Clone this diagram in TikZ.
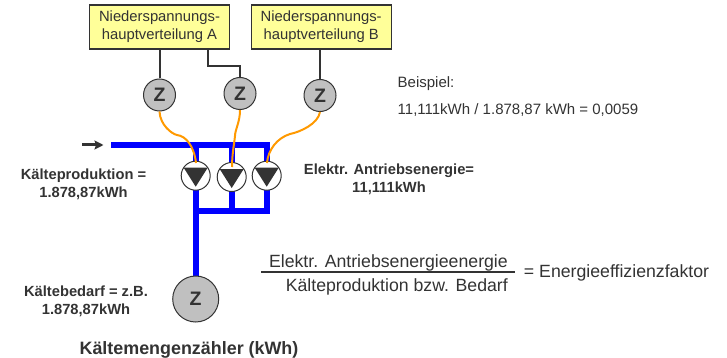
\documentclass[tikz,border=0pt]{standalone}
\usepackage{fontspec}
\setmainfont{Liberation Sans}
\usetikzlibrary{positioning, arrows.meta, backgrounds}
\definecolor{coloredge}{HTML}{333333}
\definecolor{colorbox}{HTML}{FFFF99}
\definecolor{colormeter}{HTML}{C0C0C0}
\definecolor{colorpipe}{HTML}{0000FF}
\definecolor{colorsignal}{HTML}{FF9900}

\begin{document}
\begin{tikzpicture}[
    x=1pt, y=-1pt,
    % Yellow distribution boxes
    box/.style={
        rectangle,
        draw=coloredge,
        fill=colorbox,
        align=center,
        minimum width=140pt,
        minimum height=44pt,
        inner sep=0pt,
        line width=1.2pt,
        text=coloredge,
        font=\fontsize{14.8}{18}\selectfont
    },
    % Small and large meters
    meter/.style={
        circle,
        draw=coloredge,
        fill=colormeter,
        minimum size=32pt,
        inner sep=0pt,
        line width=1pt,
        text=coloredge,
        font=\fontsize{19.5}{19.5}\selectfont\bfseries
    },
    bigmeter/.style={
        meter,
        minimum size=46pt
    },
    % Pump with its filled triangle
    pump/.style={
        circle,
        draw=coloredge,
        fill=white,
        minimum size=29pt,
        inner sep=0pt,
        line width=1pt,
        path picture={
            \fill[coloredge]
                ([xshift=-12pt,yshift=8pt]path picture bounding box.center) --
                ([xshift=12pt,yshift=8pt]path picture bounding box.center) --
                ([yshift=-11pt]path picture bounding box.center) -- cycle;
        }
    },
    label/.style={
        align=center,
        inner sep=0pt,
        text=coloredge,
        font=\fontsize{14.7}{18}\selectfont\bfseries
    },
    note/.style={
        anchor=west,
        inner sep=0pt,
        text=coloredge,
        font=\fontsize{15}{17}\selectfont
    },
    formula/.style={
        inner sep=0pt,
        text=coloredge,
        font=\fontsize{17.7}{20}\selectfont
    },
    wire/.style={coloredge, line width=2pt},
    pipe/.style={colorpipe, line width=6pt},
    signal/.style={colorsignal, line width=2pt},
    arrow/.style={
        -{Stealth[length=9pt, width=9pt, inset=1.5pt]},
        coloredge,
        line width=3pt
    }
]
\useasboundingbox (0,0) rectangle (727,358);

% ==============================
% Row 1: Distribution boxes and meters
% ==============================
\node[box] (boxa) at (159.5,27) {Niederspannungs-\\hauptverteilung A};
\node[box, right=20.5pt of boxa] (boxb) {Niederspannungs-\\hauptverteilung B};

\node[meter] (metera) at (159.5,95) {Z};
\node[meter] (meterb) at (240,93.5) {Z};
\node[meter] (meterc) at (320,95.5) {Z};

% ==============================
% Row 2: Pumps
% ==============================
\node[pump] (pumpa) at (195.7,175.7) {};
\node[pump] (pumpb) at (231.7,177) {};
\node[pump] (pumpc) at (266.7,175.7) {};

\coordinate (headstart) at (111,145);
\coordinate (collector) at (195.7,210.5);
\coordinate (arrowstart) at (82,145);
\coordinate (arrowend) at (103.5,145);
\coordinate (wirebend) at (208,49);
\coordinate (signala) at (196,163);
\coordinate (signalb) at (232,167);
\coordinate (signalc) at (267,163);

% ==============================
% Row 3: Cold meter
% ==============================
\node[bigmeter] (bigz) at (195.7,299) {Z};

% ==============================
% Labels
% ==============================
\node[label] (production) at (83.5,184) {Kälteproduktion =\\1.878,87kWh};
\node[label] (drive) at (389,179) {Elektr. Antriebsenergie=\\11,111kWh};
\node[label] (demand) at (86,301) {Kältebedarf = z.B.\\1.878,87kWh};
\node[label] (metername) at (189,350) {\fontsize{17.9}{20}\selectfont Kältemengenzähler (kWh)};

\node[note] (example) at (397.5,83.5) {Beispiel:};
\node[note] (result) at (397.5,110) {11,111kWh / 1.878,87 kWh = 0,0059};

% ==============================
% Formula
% ==============================
\node[formula, anchor=east] (numerator) at (508,262.5) {Elektr. Antriebsenergieenergie};
\node[formula, anchor=east] (denominator) at (508,287) {Kälteproduktion bzw. Bedarf};
\node[formula, anchor=west] (factor) at (539,273) {Energieeffizienzfaktor};
\node[formula, left=4.5pt of factor] (equals) {=};
\coordinate (fractionstart) at (261,271.5);
\coordinate (fractionend) at (515,271.5);
\draw[coloredge, line width=2pt] (fractionstart) -- (fractionend);

% ==============================
% Connections
% ==============================
\begin{scope}[on background layer]
\draw[pipe] (headstart) -| (pumpc.center);
\draw[pipe] (pumpa.center |- headstart) -- (pumpa.center);
\draw[pipe] (pumpb.center |- headstart) -- (pumpb.center);
\draw[pipe] (pumpa.center) -- (bigz.center);
\draw[pipe] (collector) -| (pumpc.center);
\draw[pipe] (pumpb.center) -- (pumpb.center |- collector);
\end{scope}

\draw[arrow] (arrowstart) -- (arrowend);

\draw[wire] (boxa.south -| metera) -- (metera);
\draw[wire] (wirebend) |- (240,66.5) -- (meterb);
\draw[wire] (boxb.south -| meterc) -- (meterc);

% Signal lines from the meters to the pumps
\draw[signal] (metera.south) .. controls (160,125) and (172,134) .. (177,135)
    .. controls (186,136) and (194,146) .. (signala);
\draw[signal] (meterb.south) .. controls (240,122) and (235,130) .. (235,136)
    .. controls (234,145) and (232,155) .. (signalb);
\draw[signal] (meterc.south) .. controls (318,124) and (300,132) .. (290,134)
    .. controls (277,138) and (268,150) .. (signalc);

\end{tikzpicture}
\end{document}
